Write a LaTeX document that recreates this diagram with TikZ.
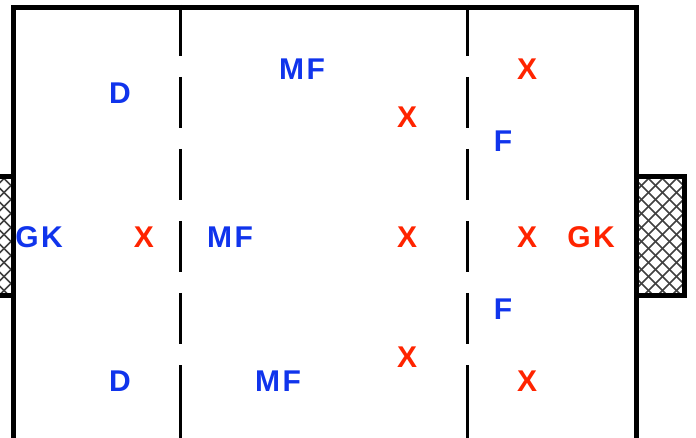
\documentclass[tikz,border=0pt]{standalone}
\usepackage{fontspec}
\setmainfont{Liberation Sans}
\definecolor{pblue}{RGB}{16,52,236}
\definecolor{pred}{RGB}{255,36,0}
\begin{document}
\begin{tikzpicture}[x=1pt,y=-1pt,
  lbl/.style={font=\fontsize{30}{30}\selectfont\bfseries\addfontfeature{LetterSpace=8}, inner sep=0pt, anchor=center},
  ours/.style={lbl, text=pblue},
  theirs/.style={lbl, text=pred},
  fieldline/.style={line width=5pt, line join=miter},
  midline/.style={line width=3pt, dash pattern=on 51pt off 21pt},
  solidmid/.style={line width=3pt},
  goalbox/.style={line width=4.5pt, fill=white},
  hatch/.style={line width=1.6pt, black!75}]
\useasboundingbox (0,0) rectangle (696,438);
% field
\draw[fieldline] (13.5,7.5) rectangle (636.5,440);
% dashed dividing lines
\coordinate (l1t) at (180,5); \coordinate (l1m) at (180,365); \coordinate (l1b) at (180,440);
\coordinate (l2t) at (467,5); \coordinate (l2m) at (467,365); \coordinate (l2b) at (467,440);
\draw[midline] (l1t) -- (l1m);
\draw[solidmid] (l1m) -- (l1b);
\draw[midline] (l2t) -- (l2m);
\draw[solidmid] (l2m) -- (l2b);
% goals
\foreach \xa/\xb in {-36/13.5, 636.5/684.5}{
  \fill[white] (\xa,176.5) rectangle (\xb,295.5);
  \begin{scope}
    \clip (\xa,176.5) rectangle (\xb,295.5);
    \foreach \k in {-12,...,14}{
      \draw[hatch] (\xa+\k*14-130,176.5) -- ++(130,130);
      \draw[hatch] (\xa+\k*14,176.5) -- ++(-130,130);
    }
  \end{scope}
  \draw[line width=4.5pt] (\xa,176.5) rectangle (\xb,295.5);
}
% players
\node[ours] (gk1) at (39,237) {GK};
\node[ours] (d1) at (120,93) {D};
\node[ours] (d2) at (120,381) {D};
\node[ours] (mf1) at (302,69) {MF};
\node[ours] (mf2) at (230,237) {MF};
\node[ours] (mf3) at (278,381) {MF};
\node[ours] (f1) at (503,141) {F};
\node[ours] (f2) at (503,309) {F};
\node[theirs] (x1) at (144,237) {X};
\node[theirs] (x2) at (407,117) {X};
\node[theirs] (x3) at (407,237) {X};
\node[theirs] (x4) at (407,357) {X};
\node[theirs] (x5) at (527,69) {X};
\node[theirs] (x6) at (527,237) {X};
\node[theirs] (x7) at (527,381) {X};
\node[theirs] (gk2) at (591,237) {GK};
\end{tikzpicture}
\end{document}
